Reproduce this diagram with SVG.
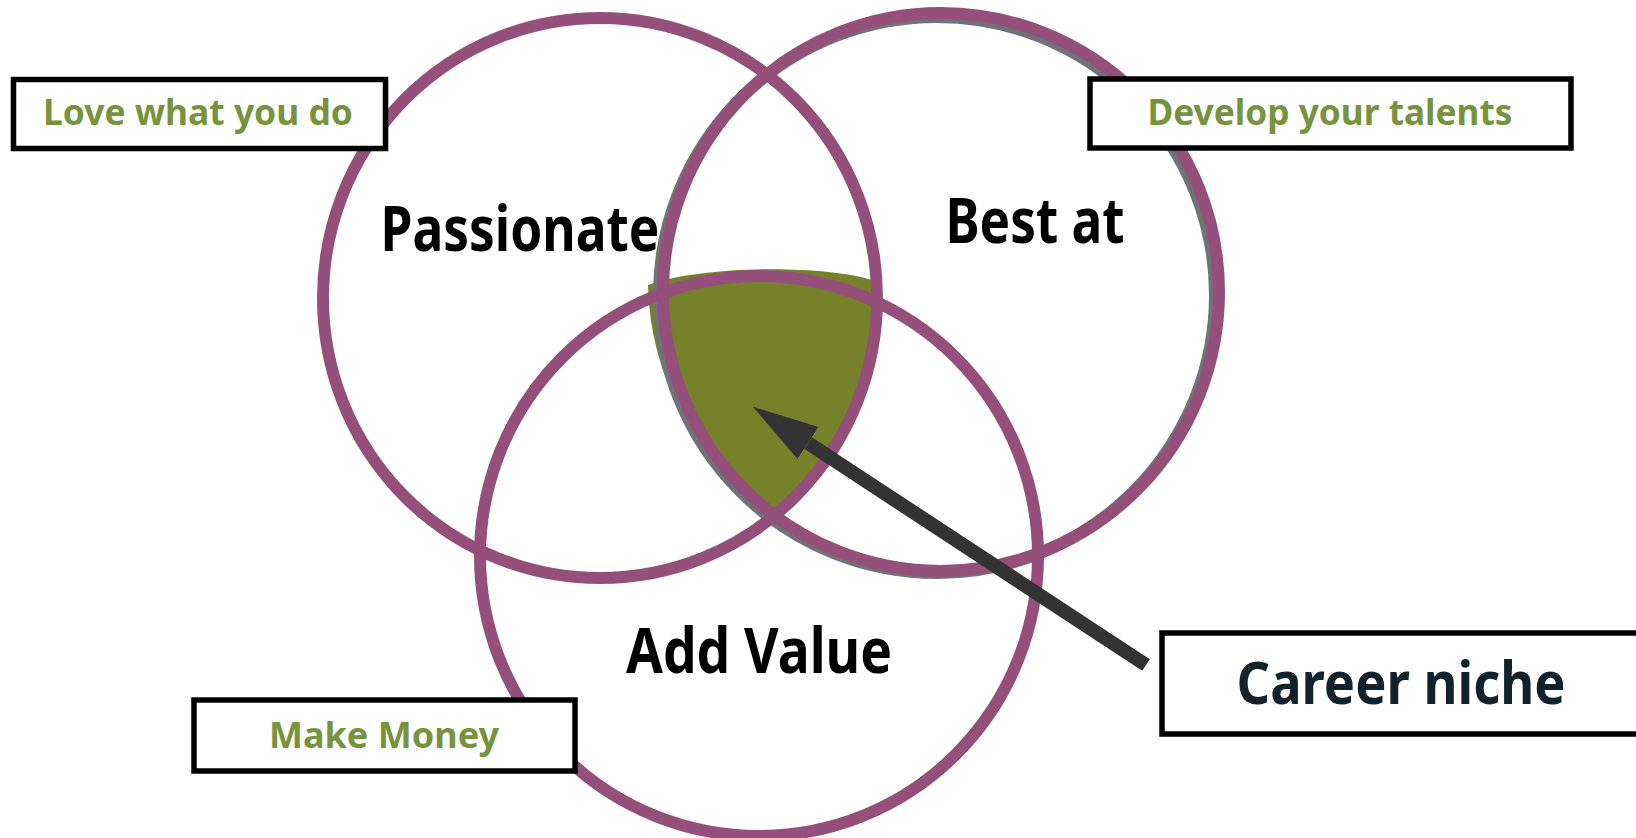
<svg xmlns="http://www.w3.org/2000/svg" width="1636" height="838" viewBox="0 0 1636 838">
  <style>
    .ring { fill: none; stroke: #94507A; stroke-width: 12; }
    .shadow { fill: none; stroke: #6F7378; stroke-width: 12; }
    .box { fill: #FFFFFF; stroke: #000000; stroke-width: 5.5; }
    .tag { font-family: "Noto Sans", "Open Sans", sans-serif; font-weight: bold; fill: #77933C; }
    .big { font-family: "Noto Sans", "Open Sans", sans-serif; font-weight: bold; fill: #000000; }
  </style>
  <defs>
    <marker id="head" markerUnits="userSpaceOnUse" viewBox="0 -20 70 40" refX="0" refY="0" markerWidth="70" markerHeight="40" orient="auto">
      <path d="M0,-19 L66,0 L0,19 Z" fill="#333333"/>
    </marker>
  </defs>
  <rect width="1636" height="838" fill="#FFFFFF"/>

  <g id="niche-fill">
    <path d="M648,285 C700,266 820,264 872,280 A277,279 0 0 1 773,513 A280,280 0 0 1 648,285 Z" fill="#76822A"/>
  </g>

  <g id="circle-best">
    <ellipse class="shadow" cx="937" cy="295" rx="278" ry="278"/>
    <ellipse class="ring" cx="941" cy="292" rx="278" ry="279"/>
    <text class="big" x="1035" y="243" font-size="62" text-anchor="middle" textLength="179" lengthAdjust="spacingAndGlyphs">Best at</text>
  </g>
  <g id="circle-passionate">
    <ellipse class="ring" cx="600" cy="298" rx="277" ry="280"/>
    <text class="big" x="520" y="251" font-size="62" text-anchor="middle" textLength="279" lengthAdjust="spacingAndGlyphs">Passionate</text>
  </g>
  <g id="circle-value">
    <ellipse class="ring" cx="759" cy="556" rx="279" ry="280"/>
    <text class="big" x="759" y="673" font-size="62" text-anchor="middle" textLength="266" lengthAdjust="spacingAndGlyphs">Add Value</text>
  </g>

  <g id="connectors">
    <line x1="1146" y1="665" x2="808" y2="443" stroke="#333333" stroke-width="14" marker-end="url(#head)"/>
  </g>

  <g id="box-love">
    <rect class="box" x="13.5" y="79.5" width="372" height="69"/>
    <text class="tag" x="198" y="125" font-size="36" text-anchor="middle" textLength="310" lengthAdjust="spacingAndGlyphs">Love what you do</text>
  </g>
  <g id="box-develop">
    <rect class="box" x="1090" y="79" width="481" height="69"/>
    <text class="tag" x="1330" y="125" font-size="36" text-anchor="middle" textLength="365" lengthAdjust="spacingAndGlyphs">Develop your talents</text>
  </g>
  <g id="box-money">
    <rect class="box" x="194" y="700" width="381" height="71"/>
    <text class="tag" x="384" y="748" font-size="36" text-anchor="middle" textLength="230" lengthAdjust="spacingAndGlyphs">Make Money</text>
  </g>
  <g id="box-niche">
    <rect class="box" x="1162" y="633" width="490" height="101"/>
    <text class="big" x="1401" y="704" font-size="60" text-anchor="middle" style="fill:#13222A" textLength="329" lengthAdjust="spacingAndGlyphs">Career niche</text>
  </g>
</svg>
